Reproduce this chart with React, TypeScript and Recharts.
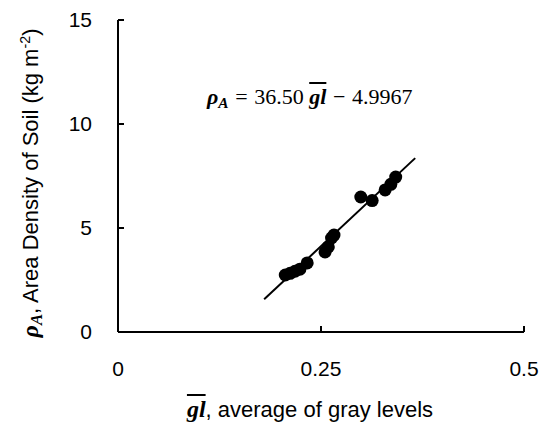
import { ScatterChart, Scatter, XAxis, YAxis } from "recharts";

// average gray level vs. measured area density
const grayLevels = [0.206, 0.212, 0.218, 0.224, 0.233, 0.255, 0.259, 0.263, 0.266, 0.299, 0.313, 0.329, 0.336, 0.342];
const densities = [2.74, 2.82, 2.92, 3.02, 3.32, 3.85, 4.09, 4.52, 4.66, 6.49, 6.32, 6.83, 7.1, 7.45];

// ends of the fitted line as drawn
const fitX = [0.18, 0.366];
const fitY = [1.57, 8.36];

const xTicks = [0, 0.25, 0.5];
const yTicks = [0, 5, 10, 15];

const points = grayLevels.map((x, i) => ({ x, y: densities[i] }));
const fitLine = fitX.map((x, i) => ({ x, y: fitY[i] }));

const sans = "'Liberation Sans', Arial, sans-serif";
const math = "'Liberation Serif', 'DejaVu Serif', serif";

const GL = () => (
  <span style={{ fontFamily: math, fontWeight: "bold", fontStyle: "italic", textDecoration: "overline" }}>gl</span>
);
const RhoA = () => (
  <span style={{ fontFamily: math, fontWeight: "bold", fontStyle: "italic" }}>
    ρ<span style={{ fontSize: "0.7em", verticalAlign: "-0.25em", lineHeight: 0 }}>A</span>
  </span>
);
const Op = ({ c }: { c: string }) => <span style={{ margin: "0 0.3em" }}>{c}</span>;

const Dot = (props: any) => <circle cx={props.cx} cy={props.cy} r={6.5} fill="#000" />;

export default function App() {
  return (
    <div style={{ position: "absolute", left: 0, top: 0, width: 550, height: 425, background: "#fff" }}>
      <ScatterChart width={550} height={425} margin={{ top: 20, right: 26, bottom: 0, left: 0 }}>
        <XAxis
          type="number"
          dataKey="x"
          domain={[0, 0.5]}
          ticks={xTicks}
          tickFormatter={(v) => String(v)}
          height={93}
          axisLine={{ stroke: "#000", strokeWidth: 2 }}
          tickLine={{ stroke: "#000", strokeWidth: 2 }}
          tickSize={-6}
          tickMargin={35}
          tick={{ fill: "#000", fontSize: 21, fontFamily: sans }}
        />
        <YAxis
          type="number"
          dataKey="y"
          domain={[0, 15]}
          ticks={yTicks}
          width={118}
          axisLine={{ stroke: "#000", strokeWidth: 2 }}
          tickLine={{ stroke: "#000", strokeWidth: 2 }}
          tickSize={-6}
          tickMargin={32}
          tick={{ fill: "#000", fontSize: 21, fontFamily: sans }}
        />
        <Scatter
          data={fitLine}
          line={{ stroke: "#000", strokeWidth: 2 }}
          shape={() => null}
          isAnimationActive={false}
        />
        <Scatter data={points} shape={Dot} isAnimationActive={false} />
      </ScatterChart>

      <div
        style={{
          position: "absolute",
          left: 207,
          top: 86,
          fontFamily: math,
          fontSize: 22,
          lineHeight: 1,
          whiteSpace: "nowrap",
          color: "#000",
        }}
      >
        <RhoA />
        <Op c="=" />36.50 <GL />
        <Op c="−" />4.9967
      </div>

      <div
        style={{
          position: "absolute",
          left: 310,
          top: 395,
          transform: "translateX(-50%)",
          fontFamily: sans,
          fontSize: 22,
          whiteSpace: "nowrap",
          color: "#000",
        }}
      >
        <span style={{ fontSize: 24 }}><GL /></span>, average of gray levels
      </div>

      <div
        style={{
          position: "absolute",
          left: 30,
          top: 183,
          transform: "translate(-50%, -50%) rotate(-90deg)",
          fontFamily: sans,
          fontSize: 22,
          whiteSpace: "nowrap",
          color: "#000",
        }}
      >
        <span style={{ fontSize: 24 }}><RhoA /></span>, Area Density of Soil (kg m<sup style={{ fontSize: "0.65em" }}>-2</sup>)
      </div>
    </div>
  );
}
